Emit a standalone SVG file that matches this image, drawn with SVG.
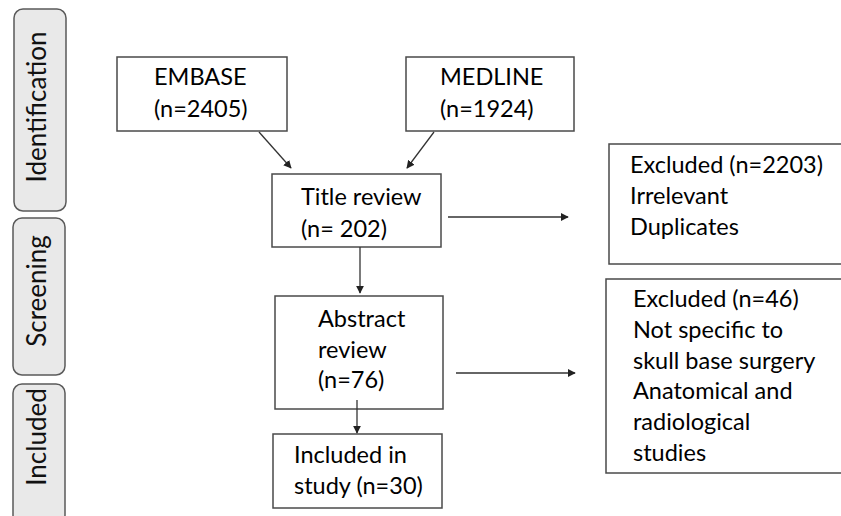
<svg xmlns="http://www.w3.org/2000/svg" width="841" height="516" viewBox="0 0 841 516">
  <style>
    .bar { fill: #e9e9e9; stroke: #5a5a5a; stroke-width: 1.5; }
    .box { fill: #ffffff; stroke: #4a4a4a; stroke-width: 1.5; }
    .t { font-family: Lato, "Open Sans", sans-serif; font-size: 23.5px; fill: #000000; }
    .side { font-family: Lato, "Open Sans", sans-serif; font-size: 26px; fill: #111111; text-anchor: middle; }
    .conn line { stroke: #333333; stroke-width: 1.3; }
  </style>
  <defs>
    <marker id="ah" viewBox="0 0 10 10" refX="9" refY="5" markerWidth="8" markerHeight="8" markerUnits="userSpaceOnUse" orient="auto">
      <path d="M0,0 L10,5 L0,10 z" fill="#222222"/>
    </marker>
  </defs>
  <rect width="841" height="516" fill="#ffffff"/>

  <g id="phase-identification">
    <rect class="bar" x="14" y="9" width="52" height="202" rx="9"/>
    <text class="side" transform="translate(46,107) rotate(-90)">Identification</text>
  </g>
  <g id="phase-screening">
    <rect class="bar" x="13" y="218" width="52" height="157" rx="9"/>
    <text class="side" transform="translate(46,291) rotate(-90)">Screening</text>
  </g>
  <g id="phase-included">
    <rect class="bar" x="13" y="384" width="52" height="140" rx="9"/>
    <text class="side" transform="translate(46,437) rotate(-90)">Included</text>
  </g>

  <g id="embase">
    <rect class="box" x="117" y="57" width="170" height="74"/>
    <text class="t" x="154" y="85">EMBASE</text>
    <text class="t" x="154" y="117">(n=2405)</text>
  </g>
  <g id="medline">
    <rect class="box" x="406" y="57" width="168" height="74"/>
    <text class="t" x="440" y="85">MEDLINE</text>
    <text class="t" x="440" y="117">(n=1924)</text>
  </g>
  <g id="title-review">
    <rect class="box" x="272" y="174" width="169" height="73"/>
    <text class="t" x="301" y="205">Title review</text>
    <text class="t" x="301" y="237">(n= 202)</text>
  </g>
  <g id="excluded-title">
    <rect class="box" x="609" y="144" width="240" height="120"/>
    <text class="t" x="630" y="173">Excluded (n=2203)</text>
    <text class="t" x="630" y="204">Irrelevant</text>
    <text class="t" x="630" y="235">Duplicates</text>
  </g>
  <g id="abstract-review">
    <rect class="box" x="275" y="296" width="168" height="113"/>
    <text class="t" x="318" y="327">Abstract</text>
    <text class="t" x="318" y="358">review</text>
    <text class="t" x="318" y="388">(n=76)</text>
  </g>
  <g id="excluded-abstract">
    <rect class="box" x="606" y="279" width="243" height="194"/>
    <text class="t" x="633" y="307">Excluded (n=46)</text>
    <text class="t" x="633" y="338">Not specific to</text>
    <text class="t" x="633" y="369">skull base surgery</text>
    <text class="t" x="633" y="399">Anatomical and</text>
    <text class="t" x="633" y="430">radiological</text>
    <text class="t" x="633" y="461">studies</text>
  </g>
  <g id="included-study">
    <rect class="box" x="273" y="434" width="169" height="74"/>
    <text class="t" x="294" y="463">Included in</text>
    <text class="t" x="294" y="494">study (n=30)</text>
  </g>

  <g id="connectors" class="conn">
    <line x1="259" y1="132" x2="291" y2="168" marker-end="url(#ah)"/>
    <line x1="434" y1="132" x2="407" y2="168" marker-end="url(#ah)"/>
    <line x1="448" y1="217" x2="568" y2="217" marker-end="url(#ah)"/>
    <line x1="360" y1="247" x2="360" y2="293" marker-end="url(#ah)"/>
    <line x1="456" y1="373" x2="575" y2="373" marker-end="url(#ah)"/>
    <line x1="357" y1="400" x2="357" y2="433" marker-end="url(#ah)"/>
  </g>
</svg>
